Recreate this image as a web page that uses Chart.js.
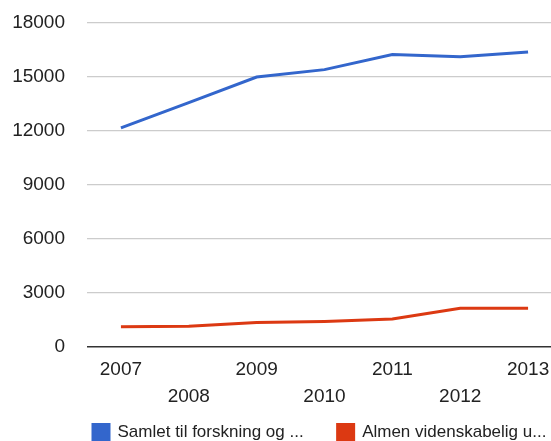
<!DOCTYPE html>
<html>
<head>
<meta charset="utf-8">
<script src="https://cdn.jsdelivr.net/npm/chart.js@4.4.0/dist/chart.umd.min.js"></script>
<style>
  html, body { margin: 0; padding: 0; background: #fff; overflow: hidden; }
  #wrap { width: 562px; height: 441px; }
</style>
</head>
<body>
<div id="wrap"><canvas id="myChart"></canvas></div>
<script>
// years on the x axis
const aar = ['2007', '2008', '2009', '2010', '2011', '2012', '2013'];
// Samlet til forskning og ...
const samlet = [12170, 13580, 15000, 15410, 16250, 16130, 16390];
// Almen videnskabelig u...
const almen = [1130, 1150, 1360, 1420, 1550, 2150, 2150];
const yTicks = [0, 3000, 6000, 9000, 12000, 15000, 18000];

// move legend to where it sits in the picture, let year labels run below the axis box
const flytLegend = {
    id: 'flytLegend',
    afterLayout(chart) {
        const l = chart.legend;
        l.left += 59;
        l.right += 59;
        chart.scales.x.bottom += 30;
    }
};

let grafico = new Chart('myChart', {
    type: 'line',
    data: {
        labels: aar,
        datasets: [{
            label: 'Samlet til forskning og ...',
            data: samlet,
            borderColor: '#3366cc',
            backgroundColor: '#3366cc',
            borderWidth: 3,
            pointRadius: 0,
            fill: false,
            tension: 0
        }, {
            label: 'Almen videnskabelig u...',
            data: almen,
            borderColor: '#dc3912',
            backgroundColor: '#dc3912',
            borderWidth: 3,
            pointRadius: 0,
            fill: false,
            tension: 0
        }]
    },
    options: {
        responsive: true,
        maintainAspectRatio: false,
        animation: false,
        layout: { padding: { top: 23, left: 0, right: 0, bottom: 0 } },
        plugins: {
            tooltip: { enabled: false },
            legend: {
                display: true,
                position: 'bottom',
                align: 'start',
                maxHeight: 51,
                labels: {
                    boxWidth: 16,
                    boxHeight: 16,
                    padding: 34,
                    color: '#222',
                    font: { family: 'Liberation Sans, Arial, sans-serif', size: 17 }
                }
            }
        },
        scales: {
            x: {
                offset: true,
                afterFit: function (s) { s.height = 43; },
                grid: { display: false, drawTicks: false },
                border: { display: false },
                ticks: {
                    autoSkip: false,
                    maxRotation: 0,
                    padding: 9,
                    color: '#222',
                    font: { family: 'Liberation Sans, Arial, sans-serif', size: 19, lineHeight: 1.42 },
                    callback: function (v, i) {
                        return i % 2 === 1 ? ['', aar[i]] : aar[i];
                    }
                }
            },
            y: {
                min: 0,
                max: 18000,
                afterBuildTicks: function (s) {
                    s.ticks = yTicks.map(v => ({ value: v }));
                },
                afterFit: function (s) {
                    s.width = 87;
                    s.paddingTop = 0;
                    s.paddingBottom = 0;
                },
                grid: {
                    drawTicks: false,
                    lineWidth: function (c) { return c.tick && c.tick.value === 0 ? 1.5 : 1.2; },
                    color: function (c) { return c.tick && c.tick.value === 0 ? '#333' : '#ccc'; }
                },
                border: { display: false },
                ticks: {
                    padding: 22,
                    color: '#222',
                    font: { family: 'Liberation Sans, Arial, sans-serif', size: 19 },
                    callback: function (v) { return String(v); }
                }
            }
        }
    },
    plugins: [flytLegend]
});
</script>
</body>
</html>
